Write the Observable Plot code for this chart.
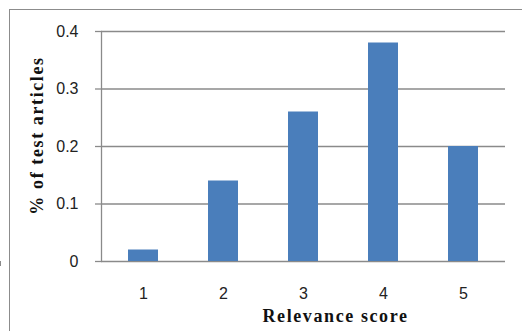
<!DOCTYPE html>
<html>
<head>
<meta charset="utf-8">
<script src="https://cdn.jsdelivr.net/npm/d3@7"></script>
<script src="https://cdn.jsdelivr.net/npm/@observablehq/plot@0.6"></script>
<style>
  html, body { margin: 0; padding: 0; background: #fff; }
  #wrap { position: relative; width: 522px; height: 331px; overflow: hidden; }
  #border { position: absolute; left: 9px; top: 9px; width: 700px; height: 500px;
            border-left: 1.5px solid #8c8c8c; border-top: 1.5px solid #8c8c8c; }
  #chart { position: absolute; left: 0; top: 0; }
</style>
</head>
<body>
<div id="wrap"><div id="border"></div><div id="chart"></div></div>
<script>
const scores = [1, 2, 3, 4, 5];
const shares = [0.02, 0.14, 0.26, 0.38, 0.20];
const yTicks = [0, 0.1, 0.2, 0.3, 0.4];
const yTickLabels = ["0", "0.1", "0.2", "0.3", "0.4"];
const xTitle = "Relevance score";
const yTitle = "% of test articles";

const data = scores.map((s, i) => ({score: s, share: shares[i]}));

// x-axis tick marks at band boundaries, derived from the band scale
function boundaryTicks(index, scales) {
  const x = scales.x, y = scales.y;
  const bw = x.bandwidth || 0;
  const step = x(scores[1]) - x(scores[0]);
  const g = d3.create("svg:g");
  const y0 = y(0);
  const edges = scores.map(s => x(s) + bw / 2 - step / 2);
  edges.push(edges[edges.length - 1] + step);
  for (const e of edges) {
    g.append("line").attr("x1", e).attr("x2", e).attr("y1", y0).attr("y2", y0 + 5)
      .attr("stroke", "#8a8a8a").attr("stroke-width", 1.3);
  }
  return g.node();
}

const serif = "'Liberation Serif', 'Times New Roman', serif";

const chart = Plot.plot({
  width: 522,
  height: 331,
  marginLeft: 101,
  marginRight: 17,
  marginTop: 31,
  marginBottom: 70,
  style: {fontFamily: "'Liberation Sans', Arial, sans-serif", fontSize: "16px", color: "#222", background: "transparent"},
  x: {type: "band", domain: scores, paddingInner: 0.62, paddingOuter: 0.31},
  y: {domain: [0, 0.4]},
  marks: [
    Plot.ruleY(yTicks, {stroke: "#8a8a8a", strokeWidth: 1.3, strokeOpacity: 1}),
    Plot.frame({anchor: "left", stroke: "#8a8a8a", strokeWidth: 1.3, strokeOpacity: 1}),
    Plot.barY(data, {x: "score", y: "share", fill: "#4a7ebb"}),
    Plot.axisY({ticks: yTicks, tickFormat: d => yTickLabels[yTicks.indexOf(d)], tickSize: 6, tickPadding: 17,
                stroke: "#8a8a8a", strokeOpacity: 1, strokeWidth: 1.3, fill: "#222", label: null, fontSize: 16}),
    Plot.axisX({tickSize: 0, tickPadding: 26, label: null, fill: "#222", fontSize: 16}),
    boundaryTicks,
    Plot.text([xTitle], {frameAnchor: "bottom", dx: 32, dy: 60, text: d => d,
      fontFamily: serif, fontWeight: "bold", fontSize: 18, fill: "#111"}),
    Plot.text([yTitle], {frameAnchor: "left", textAnchor: "middle", dx: -64, dy: -11, rotate: -90, text: d => d,
      fontFamily: serif, fontWeight: "bold", fontSize: 18, fill: "#111"})
  ]
});
chart.querySelectorAll("text").forEach(t => {
  if (t.textContent === xTitle) t.setAttribute("letter-spacing", "1.6");
  if (t.textContent === yTitle) t.setAttribute("letter-spacing", "1.6");
});
document.getElementById("chart").appendChild(chart);
</script>
</body>
</html>
